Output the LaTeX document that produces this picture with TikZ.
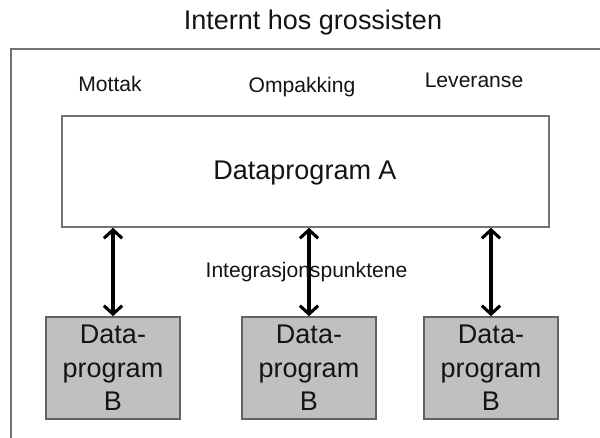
\documentclass[tikz,border=0pt]{standalone}
\usepackage{fontspec}
\setmainfont{Liberation Sans}
\usetikzlibrary{positioning}
\usetikzlibrary{arrows.meta}

\definecolor{rammegraa}{RGB}{115,115,115}
\definecolor{boksgraa}{RGB}{192,192,192}
\definecolor{tekst}{RGB}{20,20,20}

\tikzset{
  boksA/.style={draw=rammegraa,line width=1.1pt,fill=white,minimum width=12.175cm,minimum height=2.775cm,inner sep=0pt},
  boksB/.style={draw=rammegraa!85!black,line width=1.1pt,fill=boksgraa,minimum width=3.35cm,minimum height=2.55cm,inner sep=0pt,
    align=center,font=\fontsize{19.2}{23.8}\selectfont,text=tekst},
  stor/.style={font=\fontsize{19.2}{23}\selectfont,text=tekst,inner sep=0pt,anchor=base},
  liten/.style={font=\fontsize{15}{18}\selectfont,text=tekst,inner sep=0pt,anchor=base},
  pil/.style={line width=2.2pt,{Straight Barb[length=6pt,width=13pt]}-{Straight Barb[length=6pt,width=13pt]}},
}

\begin{document}
\begin{tikzpicture}[x=0.025cm,y=-0.025cm]
\useasboundingbox (0,0) rectangle (600,438);
% ramme
\draw[rammegraa,line width=1.1pt] (11,438) -- (11,49) -- (600,49);
\node[stor] (tittel) at (313,29.5) {Internt hos grossisten};
\node[liten] (mottak) at (110,91.5) {Mottak};
\node[liten] (ompakking) at (302,92.5) {Ompakking};
\node[liten] (leveranse) at (474,88) {Leveranse};

\node[boksA] (A) at (305.5,171.5) {};
\node[stor] (Atekst) at (305,180) {Dataprogram A};

\node[boksB] (B1) at (113,368) {Data-\\program\\B};
\node[boksB] (B2) at (309,368) {Data-\\program\\B};
\node[boksB] (B3) at (491,368) {Data-\\program\\B};

\draw[pil] (A.south -| B1.north) -- (B1.north);
\draw[pil] (A.south -| B2.north) -- (B2.north);
\draw[pil] (A.south -| B3.north) -- (B3.north);

\node[liten] (integ) at (306.5,278) {Integrasjonspunktene};
\end{tikzpicture}
\end{document}
